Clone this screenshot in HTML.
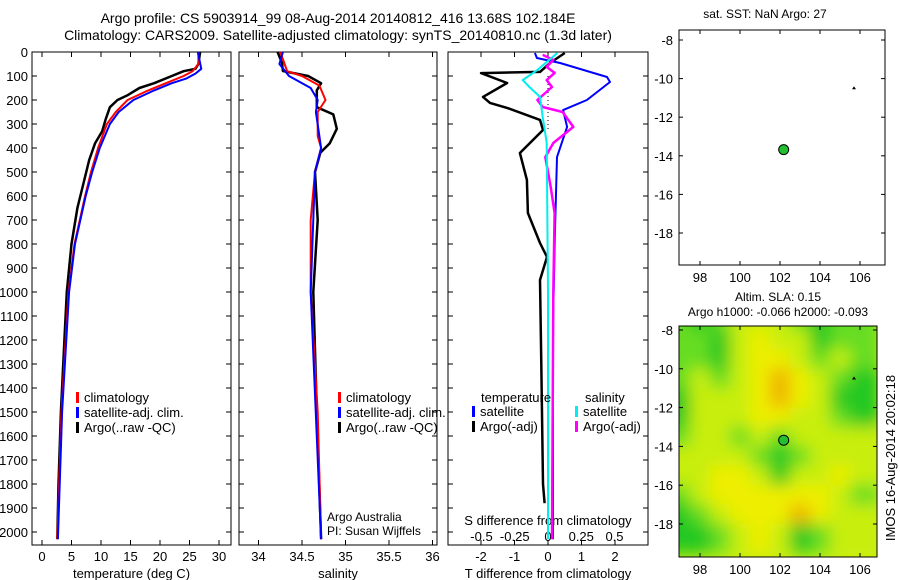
<!DOCTYPE html>
<html><head><meta charset="utf-8"><style>
body{margin:0;background:#fff;}
svg{display:block;font-family:"Liberation Sans",sans-serif;}
text{fill:#000;}
</style></head><body>
<svg id="c" width="900" height="580" xmlns="http://www.w3.org/2000/svg">
<defs><filter id="bl" x="-10%" y="-10%" width="120%" height="120%"><feGaussianBlur stdDeviation="8"/></filter><clipPath id="mc"><rect x="679" y="326" width="198" height="231"/></clipPath></defs>
<g id="titles" font-size="14">
<text x="338" y="23" text-anchor="middle">Argo profile: CS 5903914_99 08-Aug-2014 20140812_416 13.68S 102.184E</text>
<text x="338" y="40" text-anchor="middle">Climatology: CARS2009. Satellite-adjusted climatology: synTS_20140810.nc (1.3d later)</text>
</g>
<g id="root"></g>
</svg>
<script>
// ---- data ----
const depthTicks=[0,100,200,300,400,500,600,700,800,900,1000,1100,1200,1300,1400,1500,1600,1700,1800,1900,2000];
const tTicks=[0,5,10,15,20,25,30];
const sTicks=[34,34.5,35,35.5,36];
const dTTicks=[-2,-1,0,1,2];
const dSTicks=[-0.5,-0.25,0,0.25,0.5];
const dSTickLabels=["-0.5","-0.25","0","0.25","0.5"];
const tArgoD=[0,50,70,80,100,130,150,180,200,230,280,330,380,450,550,650,800,1000,1200,1500,1800,2030];
const tArgo=[26.8,26.5,26,24,22,19,16.5,14.5,12.8,11.5,10.8,10.2,9.0,8,7,6,5,4.2,3.8,3.2,2.8,2.6];
const tClimD=[0,50,80,100,130,160,200,250,300,400,500,600,800,1000,1500,2030];
const tClim=[26.5,26.5,25.5,24,21,18,14.5,12.5,11,9.5,8.3,7.3,5.5,4.5,3.3,2.6];
const tSatD=[0,70,90,110,130,160,200,250,300,400,500,600,800,1000,1500,2030];
const tSat=[26.4,27,26,24.5,22,19,15.5,13,11.5,9.8,8.5,7.4,5.6,4.6,3.4,2.7];
const sArgoD=[0,46,79,100,130,160,230,260,320,380,420,500,700,1000,1500,2030];
const sArgo=[34.22,34.27,34.28,34.57,34.72,34.67,34.67,34.86,34.9,34.82,34.71,34.65,34.68,34.63,34.67,34.72];
const sClimD=[0,50,80,100,140,200,250,350,400,500,700,1000,1500,2030];
const sClim=[34.25,34.3,34.33,34.5,34.7,34.77,34.68,34.68,34.72,34.65,34.6,34.6,34.68,34.72];
const sSatD=[0,50,100,150,200,250,400,500,1000,2030];
const sSat=[34.28,34.24,34.35,34.6,34.68,34.66,34.72,34.65,34.6,34.72];
const dTArgoD=[4,46,83,88,129,187,212,233,283,325,421,533,671,796,854,950,1300,1800,1880];
const dTArgo=[0.5,0.06,-0.24,-2.0,-1.22,-1.94,-1.73,-1.22,-0.24,-0.15,-0.84,-0.63,-0.6,-0.24,-0.03,-0.24,-0.2,-0.15,-0.1];
const dTSatD=[4,25,46,104,125,200,242,312,438,742,1129,2030];
const dTSat=[-0.39,-0.33,0.36,1.76,1.85,1.16,0.45,0.57,0.27,0.21,0.15,0.15];
const dSSatD=[4,75,117,146,187,271,379,1000,2030];
const dSSat=[0.07,-0.08,-0.19,-0.14,-0.06,-0.04,-0.01,0,0];
const dSArgoD=[12,33,62,87,117,146,200,229,250,312,379,438,562,671,1000,2030];
const dSArgo=[-0.04,0.04,-0.01,0.05,-0.01,0.03,-0.08,-0.04,0.11,0.19,0.04,-0.02,0.02,0.05,0.04,0.03];
const lonTicks=[98,100,102,104,106];
const latTicks=[-8,-10,-12,-14,-16,-18];
const argoLon=102.184, argoLat=-13.68;
const markLon=105.7, markLat=-10.5;
const slaGrid=[
[1,0,1,2,2,2,1,0,1,1],[1,1,0,2,3,2,2,0,1,1],[1,1,0,2,3,3,2,1,2,1],[1,2,1,2,3,4,3,2,1,0],
[0,2,2,2,3,4,3,2,0,0],[0,2,2,2,3,3,2,2,1,0],[1,2,2,1,2,1,2,2,2,2],[2,2,2,2,1,0,1,2,2,2],
[2,2,3,3,2,0,2,2,3,2],[1,2,3,3,3,3,3,3,2,1],[0,1,2,3,3,3,4,3,2,2],[0,0,1,2,3,2,0,1,2,2]];
const slaColors=["#22c822","#66dd22","#c8ee11","#eeee00","#f0b400"];

// ---- helpers ----
const NS="http://www.w3.org/2000/svg";const root=document.getElementById('root');
function el(t,a,p){const e=document.createElementNS(NS,t);for(const k in a)e.setAttribute(k,a[k]);(p||root).appendChild(e);return e;}
function txt(x,y,s,anchor,size,p){const e=el('text',{x:x,y:y,'text-anchor':anchor||'start','font-size':size||13},p);e.textContent=s;return e;}
const yD=d=>52+0.24*d;
const PB=545;
function panel(name,x0,x1,xs,ticks,labels,xlabel,showDepth){
  const g=el('g',{});
  
  
  el('rect',{x:x0,y:52,width:x1-x0,height:PB-52,fill:'none',stroke:'#000','stroke-width':1},g);
  ticks.forEach((v,i)=>{const x=xs(v);el('line',{x1:x,x2:x,y1:PB,y2:PB-5,stroke:'#000'},g);el('line',{x1:x,x2:x,y1:52,y2:57,stroke:'#000'},g);
    const t=txt(x,561,labels[i],'middle',13,g);
    
    });
  depthTicks.forEach(d=>{el('line',{x1:x0,x2:x0+5,y1:yD(d),y2:yD(d),stroke:'#000'},g);el('line',{x1:x1,x2:x1-5,y1:yD(d),y2:yD(d),stroke:'#000'},g);
    if(showDepth){const t=txt(28,yD(d)+5,String(d),'end',13,g);
    
    }});
  const t=txt((x0+x1)/2,578,xlabel,'middle',13,g);
  
  
  return g;
}
function line(g,xs,vals,deps,col,w,name){
  const d=vals.map((v,i)=>(i?'L':'M')+xs(v).toFixed(1)+','+yD(deps[i]).toFixed(1)).join('');
  const p=el('path',{d:d,fill:'none',stroke:col,'stroke-width':w,'stroke-linejoin':'round'},g);
  
  
}
function legend(g,x,y,col,label){
  el('rect',{x:x,y:y-10,width:3,height:11,fill:col},g);
  const t=txt(x+8,y,label,'start',13,g);
  
  
}
// panel 1 temperature
const xT=t=>42+5.9*t;
const g1=panel('temperature-panel',32,231,xT,tTicks,tTicks.map(String),'temperature (deg C)',true);
line(g1,xT,tArgo,tArgoD,'#000',2.5,'argo-temperature-line');
line(g1,xT,tClim,tClimD,'#f00',2,'climatology-temperature-line');
line(g1,xT,tSat,tSatD,'#00f',2,'satellite-temperature-line');
legend(g1,76,402,'#f00','climatology');legend(g1,76,417,'#00f','satellite-adj. clim.');legend(g1,76,432,'#000','Argo(..raw -QC)');
// panel 2 salinity
const xS=s=>302+87*(s-34.5);
const g2=panel('salinity-panel',239,437,xS,sTicks,["34","34.5","35","35.5","36"],'salinity',false);
line(g2,xS,sArgo,sArgoD,'#000',2.5,'argo-salinity-line');
line(g2,xS,sClim,sClimD,'#f00',2,'climatology-salinity-line');
line(g2,xS,sSat,sSatD,'#00f',2,'satellite-salinity-line');
legend(g2,338,402,'#f00','climatology');legend(g2,338,417,'#00f','satellite-adj. clim.');legend(g2,338,432,'#000','Argo(..raw -QC)');
txt(327,521,'Argo Australia','start',12,g2);txt(327,535,'PI: Susan Wijffels','start',12,g2);
// panel 3 diff
const xdT=v=>548+33.5*v, xdS=v=>548+133*v;
const g3=panel('difference-panel',448,648,xdT,dTTicks,dTTicks.map(String),'T difference from climatology',false);
dSTicks.forEach((v,i)=>{const t=txt(xdS(v),541,dSTickLabels[i],'middle',13,g3);
  
  });
txt(548,525,'S difference from climatology','middle',13,g3);
el('line',{x1:548,x2:548,y1:yD(100),y2:yD(330),stroke:'#000','stroke-dasharray':'1,3'},g3);
line(g3,xdT,dTArgo,dTArgoD,'#000',2.5,'argo-t-diff-line');
line(g3,xdT,dTSat,dTSatD,'#00f',2,'satellite-t-diff-line');
line(g3,xdS,dSArgo,dSArgoD,'#f0f',2.5,'argo-s-diff-line');
line(g3,xdS,dSSat,dSSatD,'#0ee',2,'satellite-s-diff-line');
txt(481,402,'temperature','start',13,g3);txt(585,402,'salinity','start',13,g3);
legend(g3,472,416,'#00f','satellite');legend(g3,472,431,'#000','Argo(-adj)');
legend(g3,575,416,'#0ee','satellite');legend(g3,575,431,'#f0f','Argo(-adj)');
// maps
function map(name,x0,y0,x1,y1,lat8y,latSp){
  const g=el('g',{});
  
  
  const lx=lon=>700+20*(lon-98), ly=lat=>lat8y+latSp*(-8-lat);
  return {g,lx,ly,x0,y0,x1,y1};
}
function mapAxes(m){
  const g=m.g;
  el('rect',{x:m.x0,y:m.y0,width:m.x1-m.x0,height:m.y1-m.y0,fill:'none',stroke:'#000'},g);
  lonTicks.forEach(v=>{const x=m.lx(v);el('line',{x1:x,x2:x,y1:m.y1,y2:m.y1-4,stroke:'#000'},g);el('line',{x1:x,x2:x,y1:m.y0,y2:m.y0+4,stroke:'#000'},g);
    const t=txt(x,m.y1+17,String(v),'middle',13,g);
    
    });
  latTicks.forEach(v=>{const y=m.ly(v);el('line',{x1:m.x0,x2:m.x0+4,y1:y,y2:y,stroke:'#000'},g);el('line',{x1:m.x1,x2:m.x1-4,y1:y,y2:y,stroke:'#000'},g);
    const t=txt(m.x0-6,y+5,String(v),'end',13,g);
    
    });
  const dot=el('circle',{cx:m.lx(argoLon),cy:m.ly(argoLat),r:5,fill:'#22c030',stroke:'#000','stroke-width':1},g);
  
  
  el('path',{d:`M${m.lx(markLon)-2},${m.ly(markLat)+1}l2,-3l2,3z`,fill:'#000'},g);
}
const m1=map('sst-map',679,30,885,265,40,19.3);
txt(765,18,'sat. SST: NaN Argo: 27','middle',12,m1.g);
mapAxes(m1);
const m2=map('sla-map',679,326,877,557,330,19.4);
const hg=el('g',{'clip-path':'url(#mc)'},m2.g);
el('rect',{x:660,y:310,width:240,height:270,fill:'#c8ee11'},hg);
const hb=el('g',{filter:'url(#bl)'},hg);
slaGrid.forEach((row,r)=>row.forEach((v,c)=>{
  const x=m2.lx(97+c)-10, y=m2.ly(-7.5-r)-10;
  const w=(c===0||c===9)?30:20.5, h=(r===0||r===11)?30:20.5;
  const cell=el('rect',{x:c===0?x-10:x,y:r===0?y-10:y,width:w,height:h,fill:slaColors[v]},hb);
  
  
}));
txt(778,301,'Altim. SLA: 0.15','middle',12,m2.g);
txt(778,316,'Argo h1000: -0.066 h2000: -0.093','middle',12,m2.g);
mapAxes(m2);
const rt=txt(0,0,'IMOS 16-Aug-2014 20:02:18','middle',13);
rt.setAttribute('transform','translate(895,458) rotate(-90)');


</script>
</body></html>
